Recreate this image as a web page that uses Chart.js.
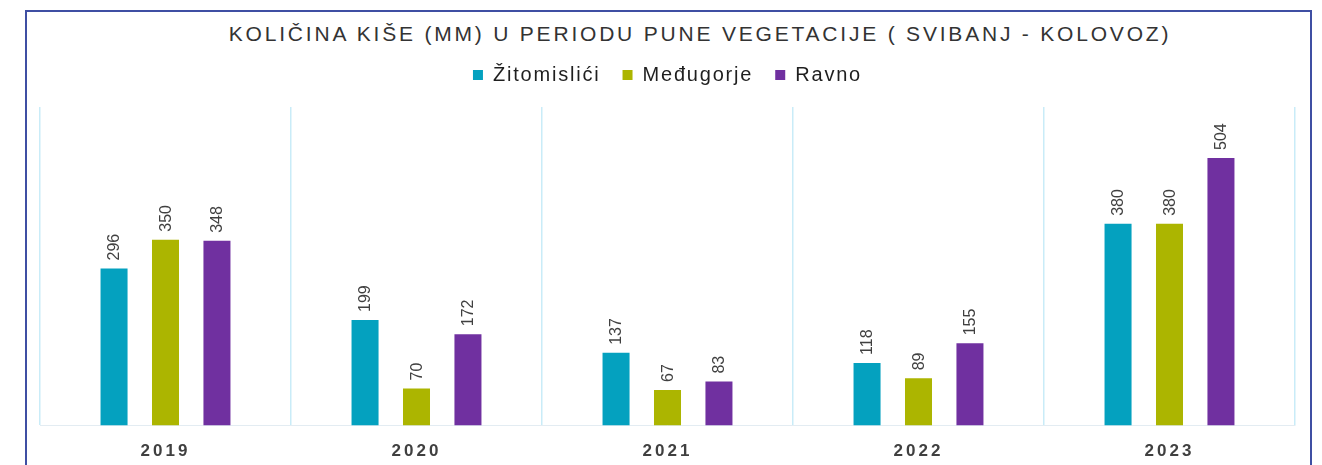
<!DOCTYPE html>
<html>
<head>
<meta charset="utf-8">
<script src="https://cdn.jsdelivr.net/npm/chart.js@4/dist/chart.umd.min.js"></script>
<style>
  html, body { margin: 0; padding: 0; background: #fff; overflow: hidden; }
  #wrap { position: relative; width: 1322px; height: 465px; overflow: hidden; }
  #frame { position: absolute; left: 25px; top: 10px; width: 1287px; height: 470px;
           border: 2px solid #3f4fa3; box-sizing: border-box; }
  #title { position: absolute; left: 0; top: 22px; width: 1400px; text-align: center;
           font: 21px "Liberation Sans", Arial, sans-serif; letter-spacing: 2.8px; color: #333; }
  canvas { position: absolute; left: 0; top: 0; }
</style>
</head>
<body>
<div id="wrap">
  <div id="frame"></div>
  <div id="title">KOLIČINA KIŠE (MM) U PERIODU PUNE VEGETACIJE ( SVIBANJ - KOLOVOZ)</div>
  <canvas id="out" width="1322" height="480"></canvas>
</div>
<script>
const years = ["2019", "2020", "2021", "2022", "2023"];
const zitomislici = [296, 199, 137, 118, 380];
const medugorje = [350, 70, 67, 89, 380];
const ravno = [348, 172, 83, 155, 504];

// razmak izmedu slova kao u originalu
const spacing = {
	id: "spacing",
	beforeLayout(chart) { chart.ctx.letterSpacing = "3px"; },
	beforeDraw(chart) { chart.ctx.letterSpacing = "3px"; }
};

// legenda: manji razmak slova i malo vise mjesta ispod nje
const legendFix = {
	id: "legendFix",
	beforeInit(chart) {
		const lg = chart.legend;
		const fit = lg.fit;
		const draw = lg.draw;
		lg.fit = function() {
			const old = chart.ctx.letterSpacing;
			chart.ctx.letterSpacing = "1.8px";
			fit.bind(lg)();
			chart.ctx.letterSpacing = old;
			this.height += 12;
		};
		lg.draw = function() {
			const old = chart.ctx.letterSpacing;
			chart.ctx.letterSpacing = "1.8px";
			draw.bind(lg)();
			chart.ctx.letterSpacing = old;
		};
	}
};

// brojke iznad stupaca, okrenute za 90 stupnjeva
const barValues = {
	id: "barValues",
	afterDatasetsDraw(chart) {
		const ctx = chart.ctx;
		chart.data.datasets.forEach(function(ds, i) {
			const meta = chart.getDatasetMeta(i);
			meta.data.forEach(function(bar, j) {
				ctx.save();
				ctx.letterSpacing = "0px";
				ctx.translate(bar.x, bar.y - 8);
				ctx.rotate(-Math.PI / 2);
				ctx.font = "16px 'Liberation Sans', Arial, sans-serif";
				ctx.fillStyle = "#404040";
				ctx.textAlign = "left";
				ctx.textBaseline = "middle";
				ctx.fillText(ds.data[j], 0, 1);
				ctx.restore();
			});
		});
	}
};

const chartConfig = {
	type: "bar",
	data: {
		labels: years,
		datasets: [
			{ label: "Žitomislići", data: zitomislici, backgroundColor: "#04a1bf" },
			{ label: "Međugorje", data: medugorje, backgroundColor: "#acb500" },
			{ label: "Ravno", data: ravno, backgroundColor: "#7030a0" }
		]
	},
	options: {
		responsive: false,
		animation: false,
		categoryPercentage: 0.615,
		barPercentage: 0.525,
		layout: { padding: { left: 40, right: 27, top: 43, bottom: 2 } },
		plugins: {
			legend: {
				labels: {
					boxWidth: 10,
					boxHeight: 10,
					padding: 22,
					color: "#1f1f1f",
					font: { size: 20, family: "'Liberation Sans', Arial, sans-serif" }
				}
			},
			tooltip: { enabled: false }
		},
		scales: {
			x: {
				grid: { color: "#c9ecf8", drawTicks: false, lineWidth: 1.5 },
				border: { color: "#e3ecf2" },
				ticks: {
					color: "#404040",
					padding: 16,
					font: { size: 17, weight: "bold", family: "'Liberation Sans', Arial, sans-serif" }
				}
			},
			y: { display: false, min: 0, max: 600 }
		}
	},
	plugins: [spacing, legendFix, barValues]
};

window.chart = new Chart(document.getElementById("out").getContext("2d"), chartConfig);
</script>
</body>
</html>
